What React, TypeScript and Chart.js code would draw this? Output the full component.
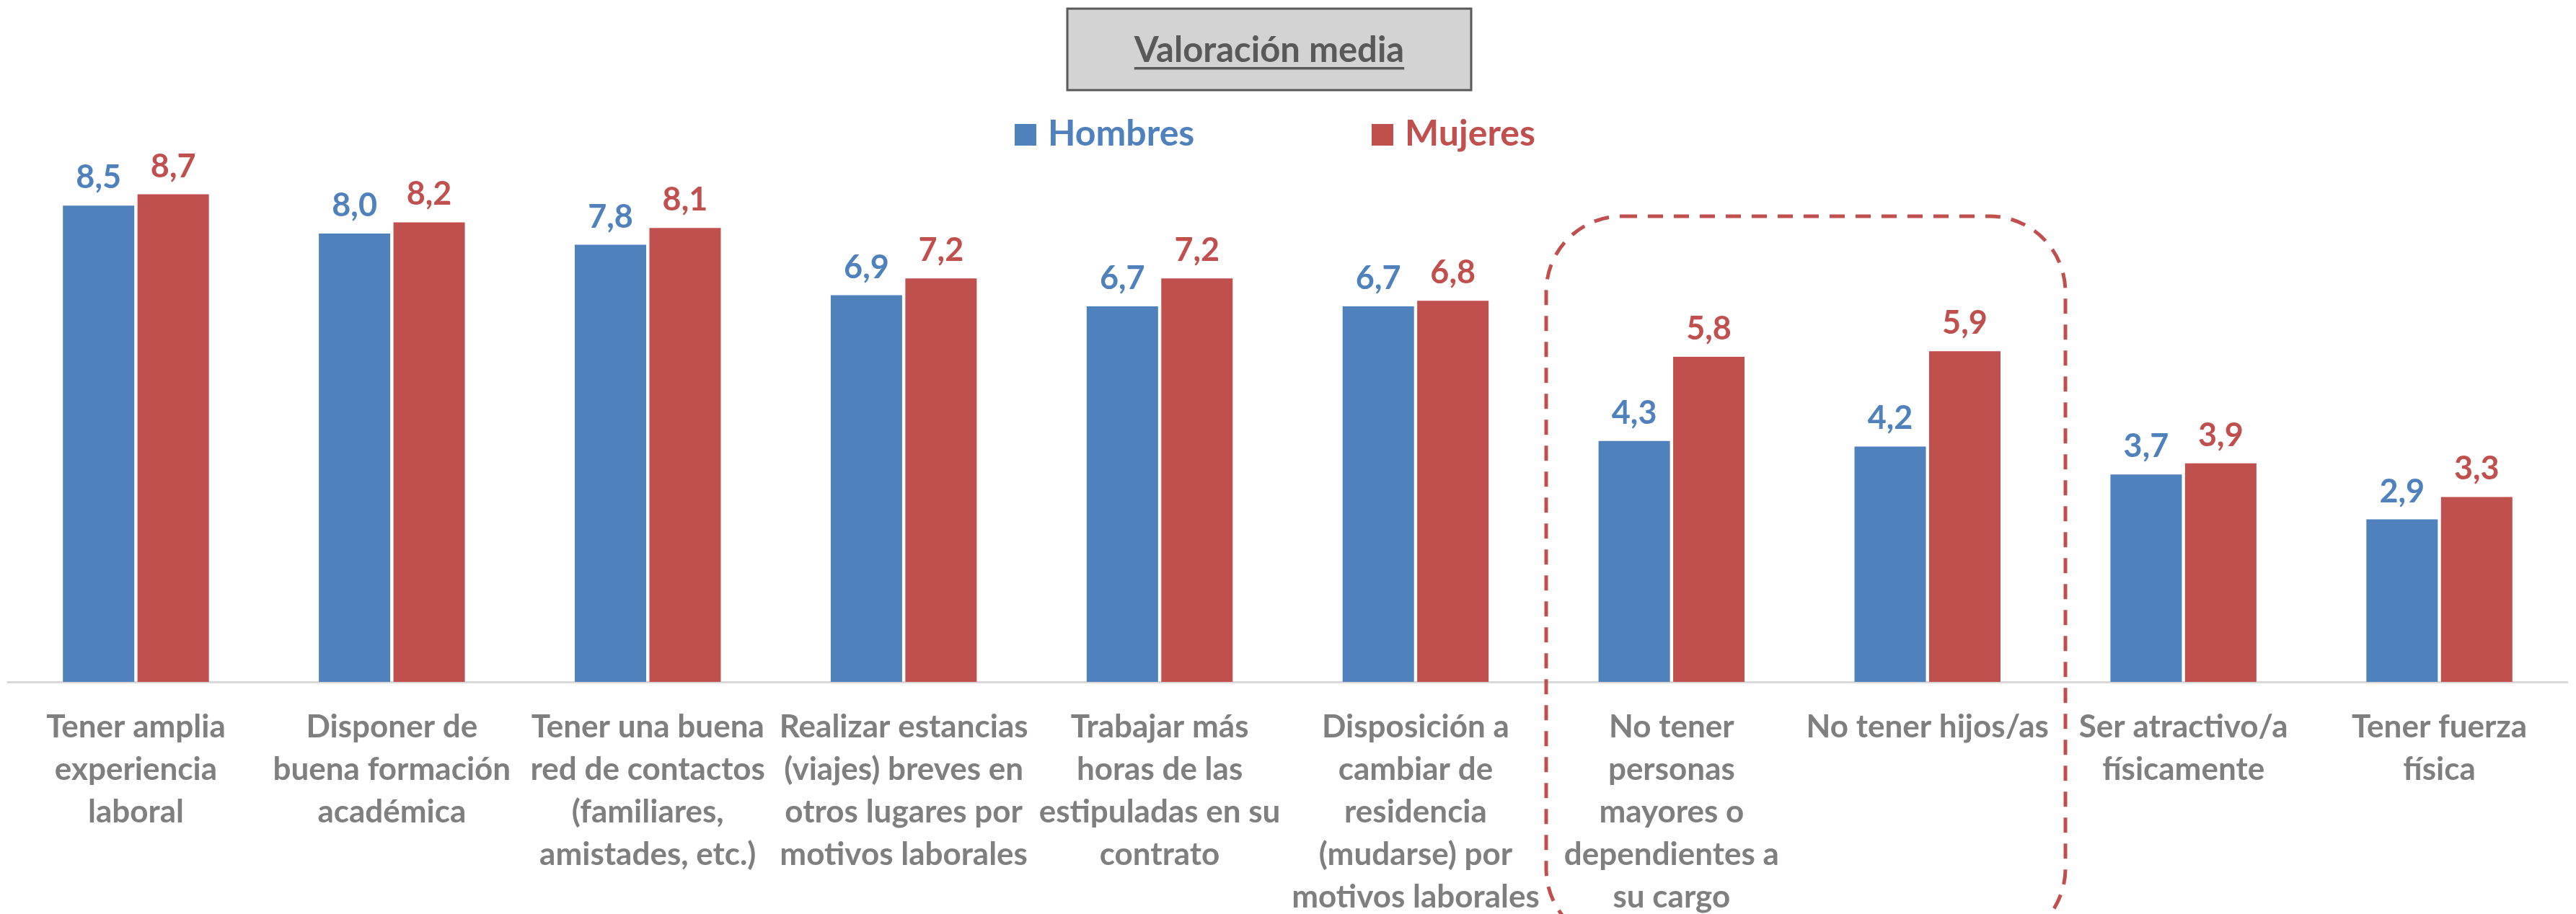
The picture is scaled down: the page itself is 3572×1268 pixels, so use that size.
import React, { useEffect, useRef } from "react";
import { Chart, registerables } from "chart.js";

Chart.register(...registerables);

const categories: string[][] = [
  ["Tener amplia", "experiencia", "laboral"],
  ["Disponer de", "buena formación", "académica"],
  ["Tener una buena", "red de contactos", "(familiares,", "amistades, etc.)"],
  ["Realizar estancias", "(viajes) breves en", "otros lugares por", "motivos laborales"],
  ["Trabajar más", "horas de las", "estipuladas en su", "contrato"],
  ["Disposición a", "cambiar de", "residencia", "(mudarse) por", "motivos laborales"],
  ["No tener", "personas", "mayores o", "dependientes a", "su cargo"],
  ["No tener hijos/as"],
  ["Ser atractivo/a", "físicamente"],
  ["Tener fuerza", "física"],
];

const hombres: number[] = [8.5, 8.0, 7.8, 6.9, 6.7, 6.7, 4.3, 4.2, 3.7, 2.9];
const mujeres: number[] = [8.7, 8.2, 8.1, 7.2, 7.2, 6.8, 5.8, 5.9, 3.9, 3.3];

const seriesNames = ["Hombres", "Mujeres"];
const titleText = "Valoración media";

const BLUE = "#4F81BD";
const RED = "#C0504D";
const FONT = "Lato, 'Open Sans', sans-serif";

const W = 3572;
const H = 1268;

const fmt = (v: number) => v.toFixed(1).replace(".", ",");

const overlayPlugin = {
  id: "overlay",
  afterDatasetsDraw(chart: any) {
    const ctx = chart.ctx;
    ctx.save();
    ctx.font = `bold 45px ${FONT}`;
    ctx.textAlign = "center";
    ctx.textBaseline = "alphabetic";
    chart.data.datasets.forEach((ds: any, di: number) => {
      const meta = chart.getDatasetMeta(di);
      ctx.fillStyle = ds.backgroundColor;
      meta.data.forEach((bar: any, i: number) => {
        ctx.fillText(fmt(ds.data[i]), bar.x, bar.y - 24);
      });
    });
    ctx.restore();
  },
  afterDraw(chart: any) {
    const ctx = chart.ctx;
    ctx.save();
    // Title box
    const bx = 1480, by = 12, bw = 560, bh = 113;
    ctx.fillStyle = "#D3D3D3";
    ctx.fillRect(bx, by, bw, bh);
    ctx.strokeStyle = "#595959";
    ctx.lineWidth = 3;
    ctx.strokeRect(bx, by, bw, bh);
    ctx.font = `bold 49px ${FONT}`;
    ctx.fillStyle = "#595959";
    ctx.textAlign = "center";
    ctx.textBaseline = "alphabetic";
    const cx = bx + bw / 2;
    ctx.fillText(titleText, cx, 86);
    const tw = ctx.measureText(titleText).width;
    ctx.fillRect(cx - tw / 2, 93, tw, 3.5);

    // Legend
    const legendItems = [
      { x: 1407, color: BLUE, label: seriesNames[0] },
      { x: 1902, color: RED, label: seriesNames[1] },
    ];
    ctx.font = `bold 50px ${FONT}`;
    ctx.textAlign = "left";
    legendItems.forEach((it) => {
      ctx.fillStyle = it.color;
      ctx.fillRect(it.x, 172, 30, 30);
      ctx.fillText(it.label, it.x + 46, 202);
    });

    // Dashed rounded highlight box
    const rx = 2144, ry = 300, rw = 720, rh = 1010, r = 105;
    ctx.strokeStyle = RED;
    ctx.lineWidth = 5;
    ctx.setLineDash([21, 15]);
    ctx.beginPath();
    ctx.moveTo(rx + r, ry);
    ctx.lineTo(rx + rw - r, ry);
    ctx.arcTo(rx + rw, ry, rx + rw, ry + r, r);
    ctx.lineTo(rx + rw, ry + rh - r);
    ctx.arcTo(rx + rw, ry + rh, rx + rw - r, ry + rh, r);
    ctx.lineTo(rx + r, ry + rh);
    ctx.arcTo(rx, ry + rh, rx, ry + rh - r, r);
    ctx.lineTo(rx, ry + r);
    ctx.arcTo(rx, ry, rx + r, ry, r);
    ctx.closePath();
    ctx.stroke();
    ctx.restore();
  },
};

export default function App() {
  const canvasRef = useRef<HTMLCanvasElement | null>(null);

  useEffect(() => {
    if (!canvasRef.current) return;
    const chart = new Chart(canvasRef.current, {
      type: "bar",
      data: {
        labels: categories,
        datasets: [
          {
            label: seriesNames[0],
            data: hombres,
            backgroundColor: BLUE,
            categoryPercentage: 0.583,
            barPercentage: 0.957,
          },
          {
            label: seriesNames[1],
            data: mujeres,
            backgroundColor: RED,
            categoryPercentage: 0.583,
            barPercentage: 0.957,
          },
        ],
      },
      options: {
        responsive: false,
        animation: false,
        devicePixelRatio: 1,
        layout: { padding: { left: 11, right: 12, top: 168.5, bottom: 0 } },
        plugins: {
          legend: { display: false },
          title: { display: false },
          tooltip: { enabled: false },
        },
        scales: {
          x: {
            grid: { display: false, drawTicks: false, tickLength: 0 },
            border: { display: true, color: "#D9D9D9", width: 3 },
            ticks: {
              autoSkip: false,
              maxRotation: 0,
              minRotation: 0,
              padding: 33,
              color: "#7F7F7F",
              font: { family: FONT, weight: "bold", size: 44, lineHeight: 59 / 44 },
            },
            afterFit: (scale: any) => {
              scale.height = 322;
            },
          },
          y: {
            display: false,
            min: 0,
            max: 10,
          },
        },
      },
      plugins: [overlayPlugin],
    });
    return () => chart.destroy();
  }, []);

  return (
    <div style={{ position: "fixed", left: 0, top: 0, width: W, height: H, background: "#FFFFFF" }}>
      <canvas ref={canvasRef} width={W} height={H} style={{ display: "block", width: W, height: H }} />
    </div>
  );
}
